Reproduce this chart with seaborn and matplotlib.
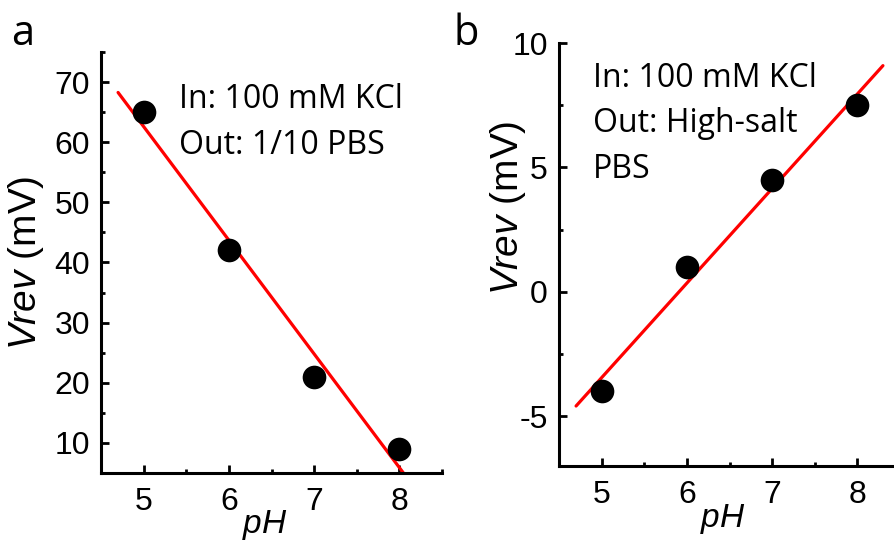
import numpy as np
import pandas as pd
import seaborn as sns
import matplotlib.pyplot as plt
from matplotlib.ticker import MultipleLocator

# data
ph = [5, 6, 7, 8]
vrev_a = [65, 42, 21, 9]       # In: 100 mM KCl / Out: 1/10 PBS
vrev_b = [-4, 1, 4.5, 7.5]     # In: 100 mM KCl / Out: High-salt PBS
notes = ["In: 100 mM KCl\nOut: 1/10 PBS", "In: 100 mM KCl\nOut: High-salt\nPBS"]
panel_labels = ["a", "b"]

sns.set_theme(style="ticks")
plt.rcParams['font.family'] = ['Liberation Sans', 'DejaVu Sans']
plt.rcParams['axes.unicode_minus'] = False
plt.rcParams['mathtext.fontset'] = 'custom'
plt.rcParams['mathtext.it'] = 'Liberation Sans:italic'
plt.rcParams['mathtext.rm'] = 'Liberation Sans'
for key in ['text.color', 'axes.labelcolor', 'xtick.color', 'ytick.color']:
    plt.rcParams[key] = 'black'

fig = plt.figure(figsize=(8.94, 5.45), dpi=100)
ax_a = fig.add_axes([0.1130, 0.1321, 0.3814, 0.7725])
ax_b = fig.add_axes([0.6253, 0.1450, 0.3814, 0.7761])


def draw_panel(ax, y, ylim, major, minor, note, note_xy, label, label_xy,
               ylab_xy, xlab_y):
    df = pd.DataFrame({'pH': ph, 'V': y})
    # linear fit, drawn a bit past the data like the original
    k, b = np.polyfit(df['pH'], df['V'], 1)
    xf = np.array([4.7, 8.3])
    fit = pd.DataFrame({'pH': xf, 'V': k * xf + b})
    sns.lineplot(data=fit, x='pH', y='V', ax=ax, color='#ff0000', lw=2.3)
    sns.scatterplot(data=df, x='pH', y='V', ax=ax, s=290, color='black',
                    edgecolor='black', linewidth=0, zorder=3)

    ax.set_xlim(4.5, 8.5)
    ax.set_ylim(*ylim)
    ax.xaxis.set_major_locator(MultipleLocator(1))
    ax.xaxis.set_minor_locator(MultipleLocator(0.5))
    ax.yaxis.set_major_locator(MultipleLocator(major))
    ax.yaxis.set_minor_locator(MultipleLocator(minor))
    ax.tick_params(which='both', direction='in', width=2, labelsize=23)
    ax.tick_params(which='major', length=5.5, pad=8)
    ax.tick_params(axis='x', which='major', pad=10)
    ax.tick_params(which='minor', length=3)
    for s in ['top', 'right']:
        ax.spines[s].set_visible(False)
    for s in ['left', 'bottom']:
        ax.spines[s].set_linewidth(2.2)
        ax.spines[s].set_color('black')

    ax.set_xlabel(r'$\it{pH}$', fontsize=24)
    ax.xaxis.set_label_coords(0.48, xlab_y)
    ax.set_ylabel(r'$\it{Vrev}$ (mV)', fontsize=28)
    ax.yaxis.set_label_coords(*ylab_xy)

    ax.text(note_xy[0], note_xy[1], note, fontsize=23, family='Open Sans',
            ha='left', va='top', linespacing=1.5)
    fig.text(label_xy[0], label_xy[1], label, fontsize=30, family='Open Sans',
             ha='left', va='baseline')


draw_panel(ax_a, vrev_a, (5, 75), 10, 5, notes[0], (5.42, 69.8), panel_labels[0],
           (0.012, 0.918), (-0.16, 0.5), -0.082)
draw_panel(ax_b, vrev_b, (-7, 10), 5, 2.5, notes[1], (4.9, 9.25), panel_labels[1],
           (0.507, 0.918), (-0.09, 0.61), -0.086)

fig.savefig('out.png', dpi=100)
